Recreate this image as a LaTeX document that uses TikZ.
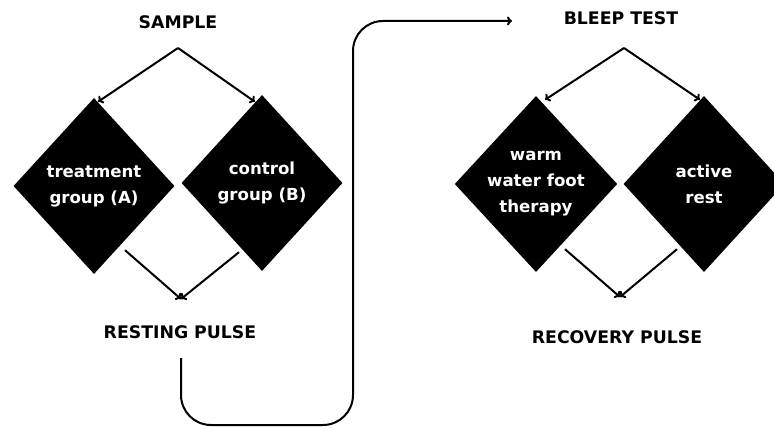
\documentclass[tikz,border=0pt]{standalone}
\usepackage{fontspec}
\setmainfont{DejaVu Sans}
\usetikzlibrary{shapes.geometric,arrows.meta,calc}
\begin{document}
\begin{tikzpicture}[x=1pt,y=-1pt,
  lbl/.style={font=\bfseries\fontsize{17.3}{20}\selectfont, text=black, inner sep=0pt},
  dia/.style={diamond, fill=black, draw=none, inner sep=0pt, minimum width=161pt, minimum height=176pt,
    text=white, align=center, font=\bfseries\fontsize{16.6}{26}\selectfont},
  conn/.style={draw=black, line width=2pt, -{To[length=5pt,width=9pt]}},
  plain/.style={draw=black, line width=2pt}]
\useasboundingbox (0,0) rectangle (774,428);
\clip (0,0) rectangle (774,428);
% nodes
\node[lbl] (sample) at (178,22) {SAMPLE};
\node[dia] (A) at (94,186) {treatment\\group (A)};
\node[dia] (B) at (262,183) {control\\group (B)};
\node[lbl] (rest) at (180,332) {RESTING PULSE};
\node[lbl] (bleep) at (621,18) {BLEEP TEST};
\node[dia] (C) at (536,184) {warm\\water foot\\therapy};
\node[dia] (D) at (704,184) {active\\rest};
\node[lbl] (recov) at (617,337) {RECOVERY PULSE};
% coordinates
\coordinate (sapex) at (178,48);
\coordinate (bapex) at (624,48);
\coordinate (rin) at (181,299);
\coordinate (cin) at (620,297);
\coordinate (l0) at (181,358);
\coordinate (l1) at (512,21);
% left branch
\draw[conn] (sapex) -- ($(A.north)+(4,4)$);
\draw[conn] (sapex) -- ($(B.north)+(-7,7)$);
\draw[conn] ($(A.south)+(31,-24)$) -- (rin);
\draw[conn] ($(B.south)+(-23,-19)$) -- (rin);
% right branch
\draw[conn] (bapex) -- ($(C.north)+(9,4)$);
\draw[conn] (bapex) -- ($(D.north)+(-4,4)$);
\draw[conn] ($(C.south)+(29,-23)$) -- (cin);
\draw[conn] ($(D.south)+(-27,-23)$) -- (cin);
% long connector
\draw[conn, rounded corners=30pt] (l0) |- (353,425) |- (l1);
\end{tikzpicture}
\end{document}
